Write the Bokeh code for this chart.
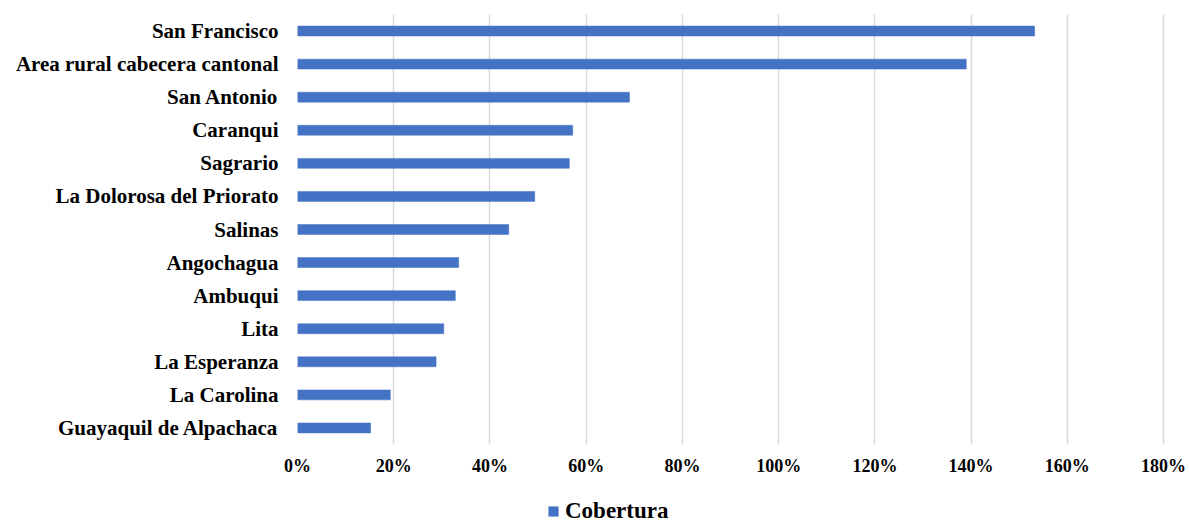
from bokeh.plotting import figure
from bokeh.layouts import column
from bokeh.models import FactorRange, Range1d, Legend, LegendItem, FixedTicker, ColumnDataSource
from bokeh.embed import file_html
from bokeh.resources import INLINE

categories = ["San Francisco", "Area rural cabecera cantonal", "San Antonio", "Caranqui",
              "Sagrario", "La Dolorosa del Priorato", "Salinas", "Angochagua", "Ambuqui",
              "Lita", "La Esperanza", "La Carolina", "Guayaquil de Alpachaca"]
cobertura = [153.2, 139.0, 69.0, 57.2, 56.5, 49.3, 43.9, 33.5, 32.8, 30.4, 28.8, 19.3, 15.2]
x_ticks = [0, 20, 40, 60, 80, 100, 120, 140, 160, 180]
x_tick_labels = {t: f"{t}%" for t in x_ticks}
series_name = "Cobertura"

FONT = "Liberation Serif"
BLUE = "#4472C4"
W = 1189

p = figure(width=W, height=478, output_backend="svg", toolbar_location=None,
           y_range=FactorRange(factors=list(reversed(categories)), range_padding=0),
           x_range=Range1d(0, 180.4),
           min_border_left=297, min_border_right=24, min_border_top=14, min_border_bottom=33)
p.outline_line_color = None
p.background_fill_color = "white"
p.border_fill_color = "white"

src = ColumnDataSource(dict(cat=categories, val=cobertura))
r = p.hbar(y="cat", right="val", left=0, height=0.3, source=src,
           fill_color=BLUE, line_color=BLUE, line_width=0.5)

p.ygrid.grid_line_color = None
p.xgrid.grid_line_color = "#d9d9d9"
p.xgrid.grid_line_width = 1.5

p.xaxis.ticker = FixedTicker(ticks=x_ticks)
p.xaxis.major_label_overrides = x_tick_labels
p.xaxis.axis_line_color = None
p.xaxis.major_tick_line_color = None
p.xaxis.minor_tick_line_color = None
p.xaxis.major_tick_out = 0
p.xaxis.major_label_standoff = 11
p.xaxis.major_label_text_font = FONT
p.xaxis.major_label_text_font_style = "bold"
p.xaxis.major_label_text_font_size = "18px"
p.xaxis.major_label_text_color = "black"

p.yaxis.axis_line_color = None
p.yaxis.major_tick_line_color = None
p.yaxis.minor_tick_line_color = None
p.yaxis.major_tick_out = 0
p.yaxis.major_label_standoff = 19
p.yaxis.major_label_text_font = FONT
p.yaxis.major_label_text_font_style = "bold"
p.yaxis.major_label_text_font_size = "21px"
p.yaxis.major_label_text_color = "black"

# legend strip below the chart (its frame is aligned with the chart frame by the column)
lf = figure(width=W, height=46, output_backend="svg", toolbar_location=None,
            x_range=Range1d(0, 10), y_range=Range1d(0, 10),
            min_border_left=297, min_border_right=24, min_border_top=0, min_border_bottom=0)
lf.axis.visible = False
lf.grid.visible = False
lf.outline_line_color = None
lf.border_fill_color = "white"
# legend key swatch renderer, kept outside the visible range so only the legend shows it
leg_src = ColumnDataSource(dict(left=[-5], right=[-4], top=[-5], bottom=[-4]))
lr = lf.quad(left="left", right="right", top="top", bottom="bottom", source=leg_src,
             fill_color=BLUE, line_color=BLUE, line_width=0.5)

legend = Legend(items=[LegendItem(label=series_name, renderers=[lr])],
                location=(250, 0), orientation="horizontal",
                glyph_width=12, glyph_height=12, label_standoff=6,
                padding=0, margin=0, spacing=0, label_height=12,
                border_line_color=None, background_fill_alpha=0,
                label_text_font=FONT, label_text_font_style="bold",
                label_text_font_size="23px", label_text_color="black")
lf.add_layout(legend, "center")

layout = column(p, lf, spacing=0)
open("out.html", "w").write(file_html(layout, INLINE))
